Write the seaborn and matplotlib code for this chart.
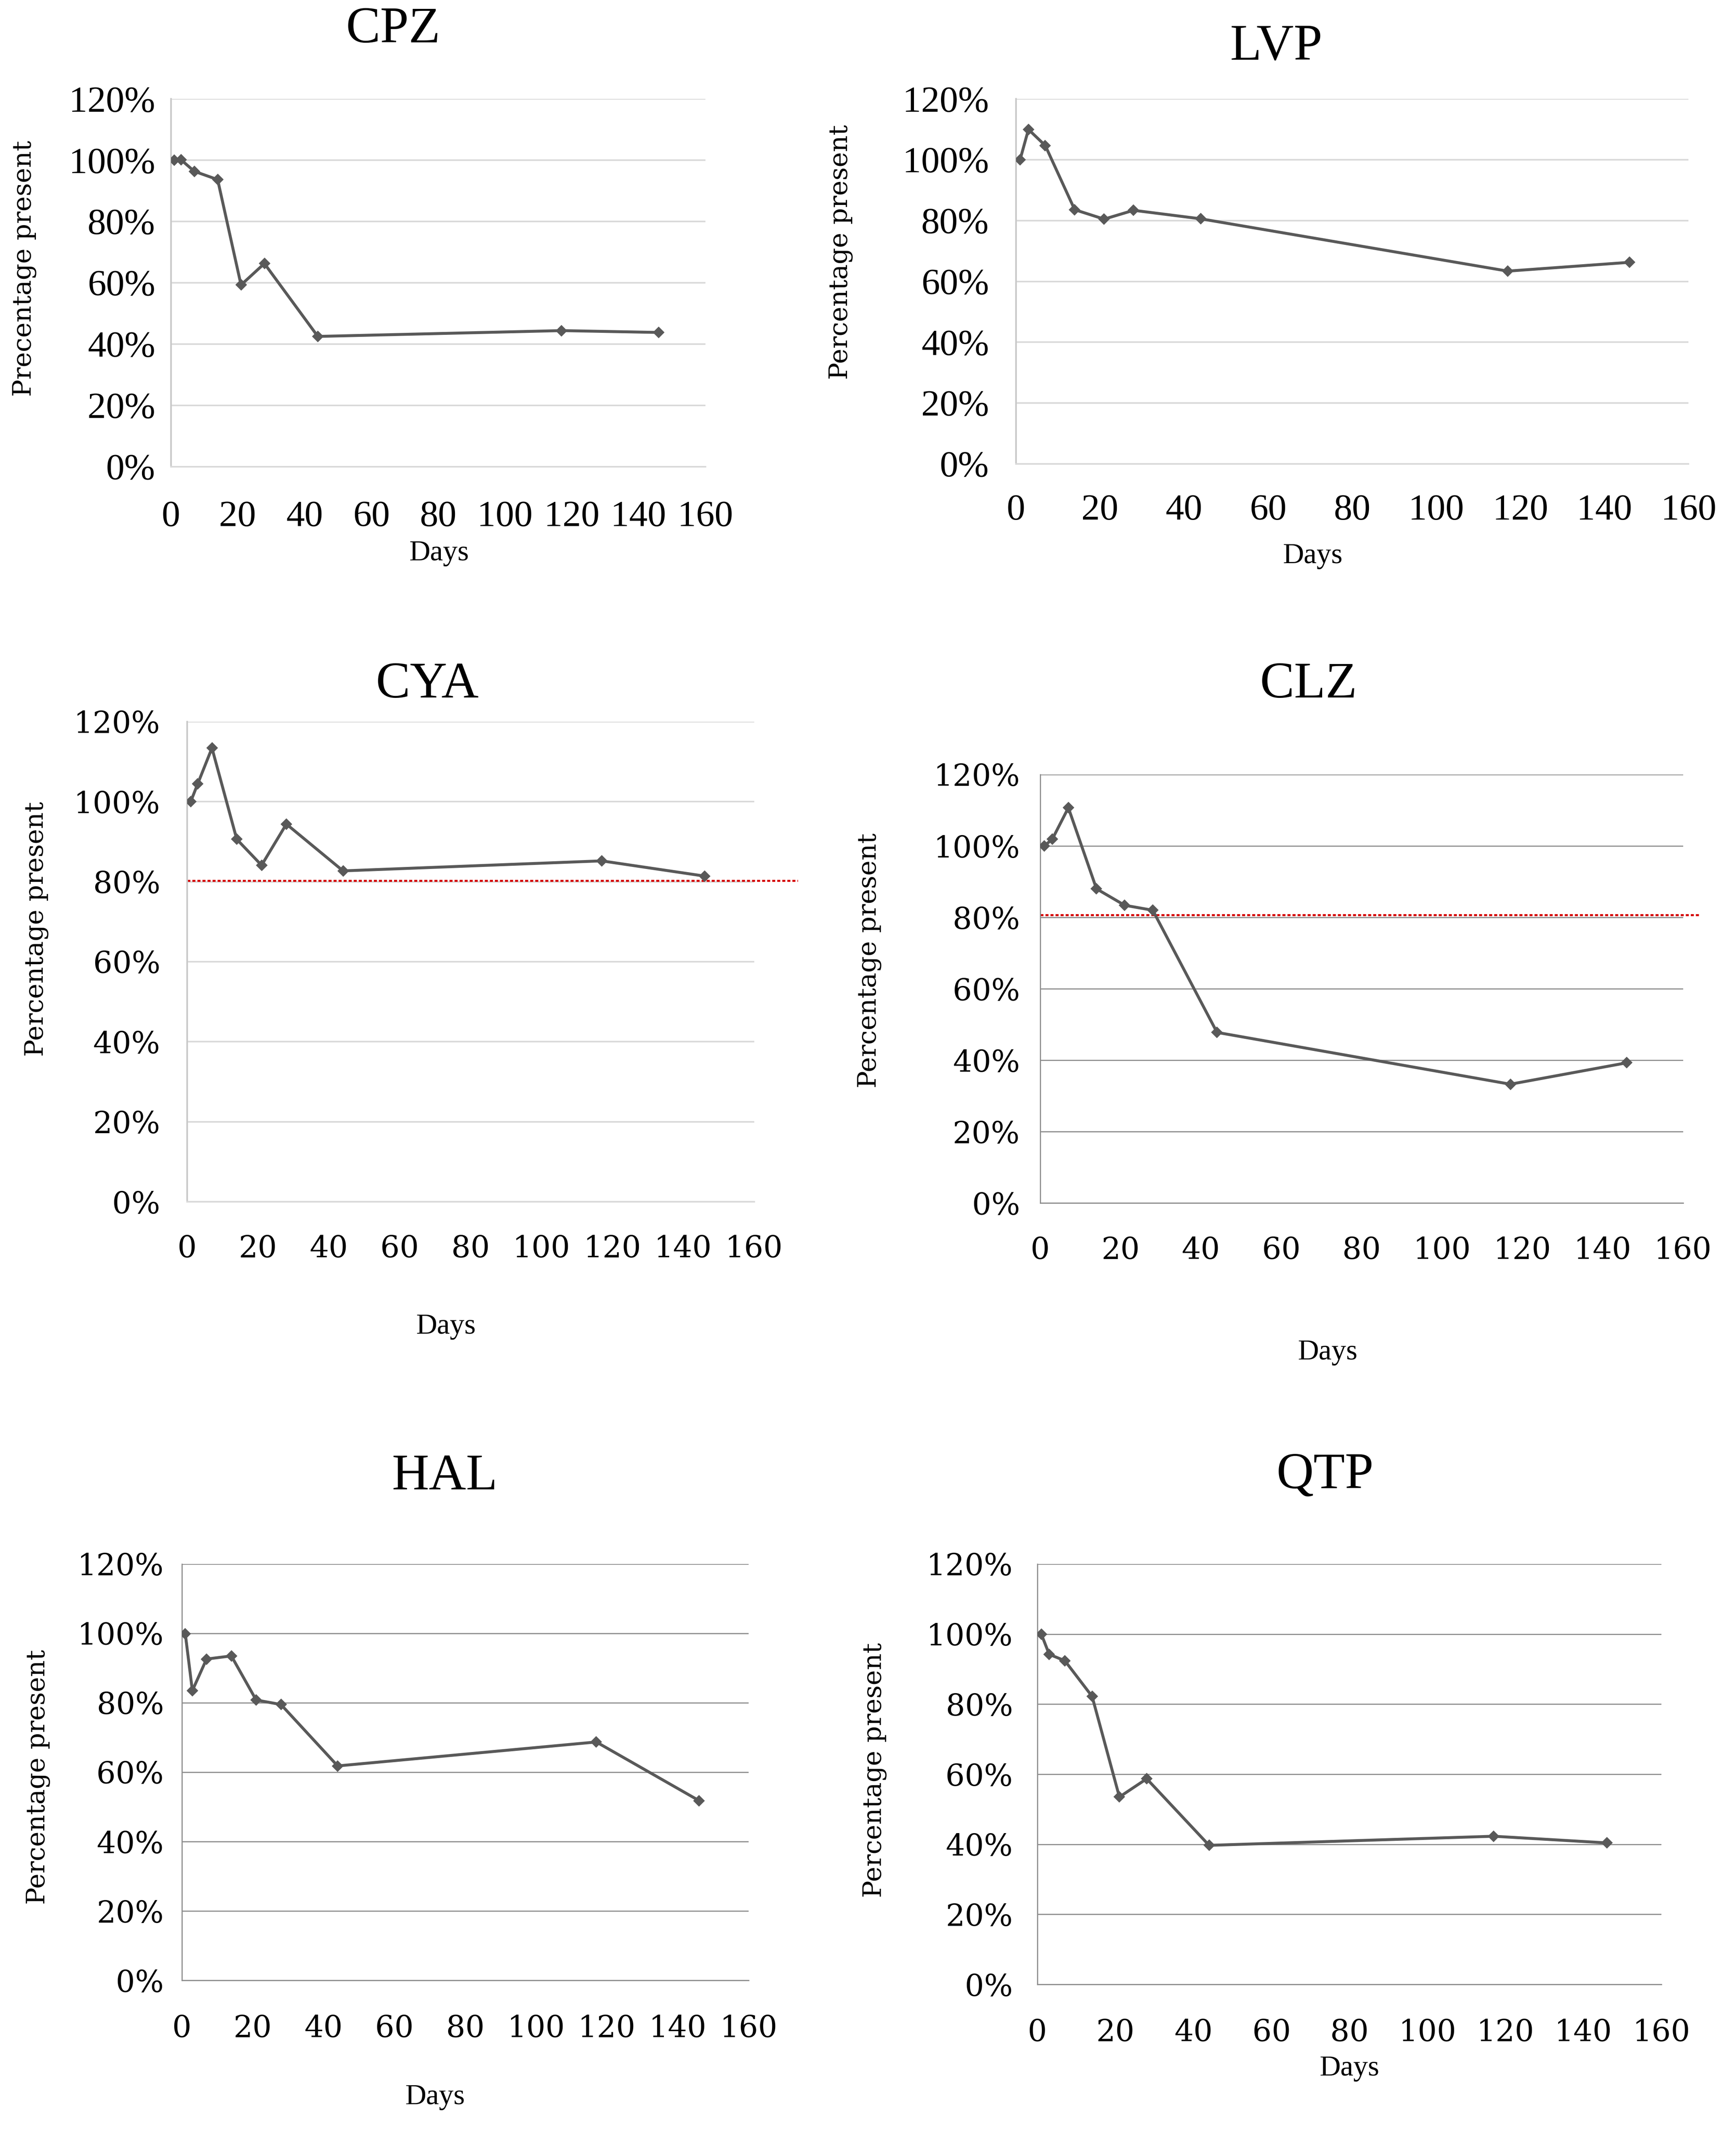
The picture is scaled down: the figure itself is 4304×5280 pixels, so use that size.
import numpy as np
import pandas as pd
import matplotlib
matplotlib.use('Agg')
import matplotlib.pyplot as plt
from matplotlib.ticker import PercentFormatter, MultipleLocator
import seaborn as sns

# sampling days (same for all drugs)
days = [1, 3, 7, 14, 21, 28, 44, 117, 146]

# percentage present
cpz = [100.0, 100.2, 96.4, 93.7, 59.3, 66.3, 42.5, 44.4, 43.8]
lvp = [100.0, 110.0, 104.7, 83.6, 80.5, 83.4, 80.6, 63.4, 66.3]
cya = [100.0, 104.5, 113.4, 90.6, 84.1, 94.4, 82.7, 85.2, 81.4]
clz = [100.0, 101.9, 110.7, 88.0, 83.4, 82.0, 47.8, 33.3, 39.3]
hal = [99.9, 83.5, 92.6, 93.5, 80.8, 79.5, 61.8, 68.7, 51.8]
qtp = [99.9, 94.2, 92.4, 82.2, 53.5, 58.7, 39.7, 42.3, 40.4]

names = ['CPZ', 'LVP', 'CYA', 'CLZ', 'HAL', 'QTP']
series = [cpz, lvp, cya, clz, hal, qtp]
ylabels = ['Precentage present', 'Percentage present', 'Percentage present',
           'Percentage present', 'Percentage present', 'Percentage present']
limit_line = {'CYA': 80.3, 'CLZ': 80.7}

sns.set_style('white')
plt.rcParams['font.family'] = ['Liberation Serif', 'DejaVu Serif']
plt.rcParams['text.color'] = 'black'

W, H = 1280.0, 1570.3
fig = plt.figure(figsize=(21.52, 26.4), dpi=200)

# layout in reference pixel coords (1280 wide scale): axes l, r, top, bottom,
# title xy, xlabel xy, ylabel xy
layout = {
    'CPZ': dict(box=(126, 520, 73, 344), title=(290, 22), xl=(324, 408), yl=(18, 198),
                tickfont='Liberation Serif', ts=33, xpad=30, ypad=14, grid='#d9d9d9', ticks=False, red_end=None),
    'LVP': dict(box=(749, 1245, 73, 342), title=(941, 35), xl=(968, 410), yl=(620, 186),
                tickfont='Liberation Serif', ts=33, xpad=27, ypad=24, grid='#d9d9d9', ticks=False, red_end=None),
    'CYA': dict(box=(138, 556, 532, 886), title=(315, 505), xl=(329, 978), yl=(27, 685),
                tickfont='DejaVu Serif', ts=27, xpad=29, ypad=24, grid='#d9d9d9', ticks=False, red_end=1.077),
    'CLZ': dict(box=(767, 1241, 571, 887), title=(965, 505), xl=(979, 997), yl=(641, 708),
                tickfont='DejaVu Serif', ts=27, xpad=19, ypad=8, grid='#8c8c8c', ticks=True, red_end=1.027),
    'HAL': dict(box=(134, 552, 1153, 1460), title=(328, 1089), xl=(321, 1546), yl=(28, 1310),
                tickfont='DejaVu Serif', ts=27, xpad=20, ypad=6, grid='#8c8c8c', ticks=True, red_end=None),
    'QTP': dict(box=(765, 1225, 1153, 1463), title=(977, 1088), xl=(995, 1525), yl=(645, 1305),
                tickfont='DejaVu Serif', ts=27, xpad=20, ypad=12, grid='#8c8c8c', ticks=True, red_end=None),
}

for name, vals, ylab in zip(names, series, ylabels):
    lay = layout[name]
    l, r, t, b = lay['box']
    ax = fig.add_axes([l / W, 1 - b / H, (r - l) / W, (b - t) / H])
    df = pd.DataFrame({'Days': days, 'pct': vals})
    sns.lineplot(data=df, x='Days', y='pct', ax=ax, color='#595959', linewidth=2.6,
                 marker='D', markersize=6.5, markeredgecolor='#595959', zorder=3)
    ax.set_xlim(0, 160)
    ax.set_ylim(0, 120)
    ax.xaxis.set_major_locator(MultipleLocator(20))
    ax.yaxis.set_major_locator(MultipleLocator(20))
    ax.yaxis.set_major_formatter(PercentFormatter(100, decimals=0))
    gc = lay['grid']
    glw = 1.4 if gc == '#d9d9d9' else 1.0
    ax.grid(axis='y', color=gc, linewidth=glw)
    ax.grid(axis='x', visible=False)
    for s in ['top', 'right']:
        ax.spines[s].set_visible(False)
    ax.spines['left'].set_color(gc if gc != '#d9d9d9' else '#c8c8c8')
    ax.spines['left'].set_linewidth(glw)
    ax.spines['bottom'].set_color(gc)
    ax.spines['bottom'].set_linewidth(glw)
    if lay['ticks']:
        ax.tick_params(axis='both', direction='out', length=10, width=1.0, color=gc)
    else:
        ax.tick_params(axis='both', length=0)
    ax.tick_params(axis='x', pad=lay['xpad'])
    ax.tick_params(axis='y', pad=lay['ypad'])
    for lab in ax.get_xticklabels() + ax.get_yticklabels():
        lab.set_fontfamily(lay['tickfont'])
        lab.set_fontsize(lay['ts'])
        lab.set_color('black')
    ax.set_xlabel('')
    ax.set_ylabel('')
    if name in limit_line:
        ax.plot([0, lay['red_end']], [limit_line[name]] * 2, color='#d40000',
                linestyle=(0, (1.5, 1)), linewidth=1.8,
                transform=ax.get_yaxis_transform(), clip_on=False, zorder=2)
    tx, ty = lay['title']
    fig.text(tx / W, 1 - ty / H, name, fontsize=46, family='Liberation Serif',
             ha='center', va='center', color='black')
    xx, xy = lay['xl']
    fig.text(xx / W, 1 - xy / H, 'Days', fontsize=26, family='Liberation Serif',
             ha='center', va='center', color='black')
    yx, yy = lay['yl']
    fig.text(yx / W, 1 - yy / H, ylab, fontsize=23, family='DejaVu Serif',
             rotation=90, ha='center', va='center', color='black')

fig.savefig('out.png', dpi=200, facecolor='white')
